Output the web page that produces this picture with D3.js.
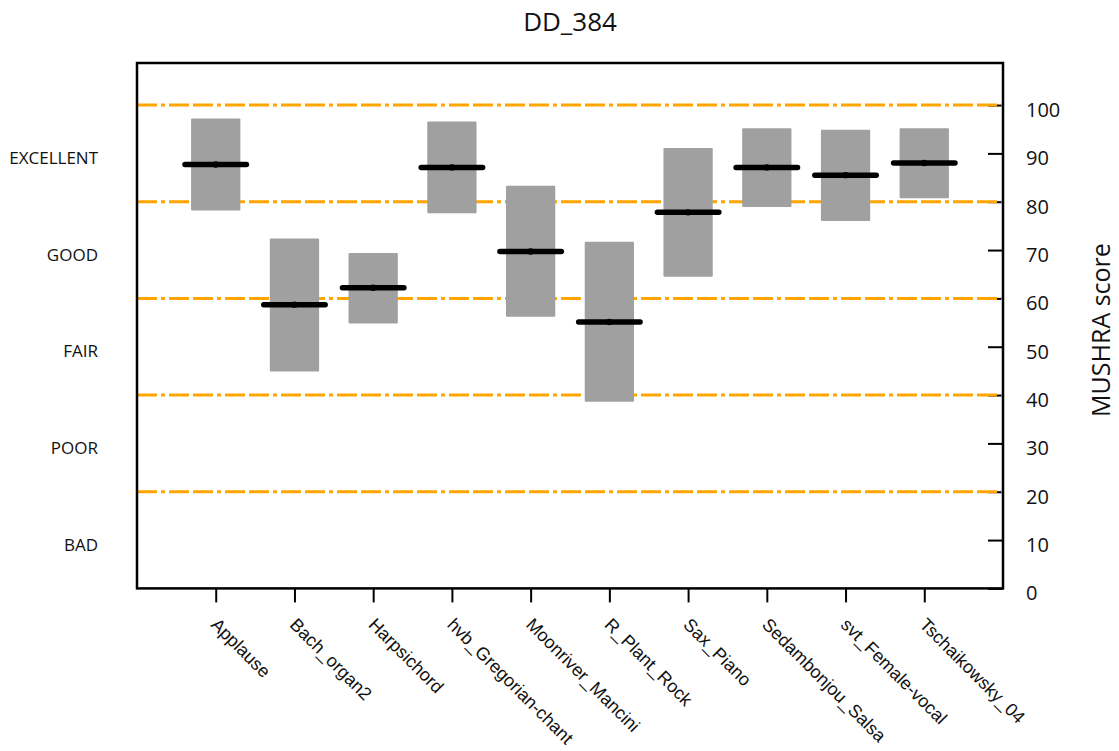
<!DOCTYPE html>
<html>
<head>
<meta charset="utf-8">
<script src="https://cdn.jsdelivr.net/npm/d3@7"></script>
<style>
  html, body { margin: 0; padding: 0; background: #fff; }
  svg { display: block; font-family: "Open Sans", sans-serif; }
</style>
</head>
<body>
<svg id="chart" width="1119" height="751"></svg>
<script>
const categories = ["Applause","Bach_organ2","Harpsichord","hvb_Gregorian-chant","Moonriver_Mancini","R_Plant_Rock","Sax_Piano","Sedambonjou_Salsa","svt_Female-vocal","Tschaikowsky_04"];
const means = [87.7, 58.7, 62.2, 87.1, 69.7, 55.1, 77.8, 87.1, 85.5, 88.0];
const lower = [78.2, 44.9, 54.8, 77.6, 56.2, 38.6, 64.5, 78.9, 76.0, 80.7];
const upper = [97.2, 72.4, 69.4, 96.6, 83.3, 71.7, 91.1, 95.2, 94.9, 95.2];
const qualityLabels = ["EXCELLENT","GOOD","FAIR","POOR","BAD"];
const qualityCenters = [90, 70, 50, 30, 10];
const refLines = [20, 40, 60, 80, 100];
const yTicks = [0,10,20,30,40,50,60,70,80,90,100];
const title = "DD_384";
const yTitle = "MUSHRA score";

const svg = d3.select("#chart");
const L = 137, R = 1003, T = 63, B = 588.4;

const x = d3.scaleLinear().domain([0, 11]).range([L, R]);
const y = d3.scaleLinear().domain([0, 108.7]).range([B, T]);

// x axis ticks
const xAxis = d3.axisBottom(x)
  .tickValues(categories.map((d, i) => i + 1))
  .tickSize(14).tickFormat("");
const gx = svg.append("g").attr("transform", `translate(0,${B})`).call(xAxis);
gx.select(".domain").remove();
gx.selectAll(".tick line").attr("stroke", "#000").attr("stroke-width", 2);

gx.selectAll(".tick").append("text")
  .attr("fill", "#111")
  .attr("font-size", 18)
  .attr("text-anchor", "start")
  .attr("dominant-baseline", "central")
  .attr("transform", "translate(-2,33) rotate(45)")
  .text((d, i) => categories[i]);

// y axis on right, ticks inward
const yAxis = d3.axisRight(y).tickValues(yTicks)
  .tickSizeInner(-15).tickSizeOuter(0).tickPadding(23);
const gy = svg.append("g").attr("transform", `translate(${R},0)`).call(yAxis);
gy.select(".domain").remove();
gy.selectAll(".tick line").attr("stroke", "#000").attr("stroke-width", 2);
gy.selectAll(".tick text").attr("font-size", 20).attr("fill", "#111")
  .attr("dy", "0.57em").attr("font-family", "Open Sans, sans-serif");

// reference lines
svg.append("g").selectAll("line").data(refLines).join("line")
  .attr("x1", L).attr("x2", R)
  .attr("y1", d => y(d)).attr("y2", d => y(d))
  .attr("stroke", "#FFA500").attr("stroke-width", 3)
  .attr("stroke-dasharray", "20,4,4,4,20,4");

// boxes
const hw = 0.313;
svg.append("g").selectAll("rect").data(categories).join("rect")
  .attr("x", (d, i) => x(i + 1 - hw))
  .attr("width", (d, i) => x(i + 1 + hw) - x(i + 1 - hw))
  .attr("y", (d, i) => y(upper[i]))
  .attr("height", (d, i) => y(lower[i]) - y(upper[i]))
  .attr("rx", 1)
  .attr("fill", "#A0A0A0");

// mean lines
const mw = 0.39;
svg.append("g").selectAll("line").data(categories).join("line")
  .attr("x1", (d, i) => x(i + 1 - mw))
  .attr("x2", (d, i) => x(i + 1 + mw))
  .attr("y1", (d, i) => y(means[i]))
  .attr("y2", (d, i) => y(means[i]))
  .attr("stroke", "#000").attr("stroke-width", 5.5)
  .attr("stroke-linecap", "round");
svg.append("g").selectAll("circle").data(categories).join("circle")
  .attr("cx", (d, i) => x(i + 1))
  .attr("cy", (d, i) => y(means[i]))
  .attr("r", 3.2).attr("fill", "#000");

// frame
svg.append("rect")
  .attr("x", L).attr("y", T)
  .attr("width", R - L).attr("height", B - T)
  .attr("fill", "none").attr("stroke", "#000").attr("stroke-width", 2.5);

// quality labels
svg.append("g").selectAll("text").data(qualityLabels).join("text")
  .attr("x", 98)
  .attr("y", (d, i) => y(qualityCenters[i]) + 4)
  .attr("text-anchor", "end")
  .attr("dominant-baseline", "central")
  .attr("font-size", 17).attr("fill", "#111")
  .text(d => d);

// title
svg.append("text")
  .attr("x", (L + R) / 2).attr("y", 31)
  .attr("text-anchor", "middle")
  .attr("font-size", 26).attr("fill", "#111")
  .text(title);

// y title
svg.append("text")
  .attr("transform", "translate(1110,330) rotate(-90)")
  .attr("text-anchor", "middle")
  .attr("font-size", 25).attr("fill", "#111")
  .text(yTitle);
</script>
</body>
</html>
